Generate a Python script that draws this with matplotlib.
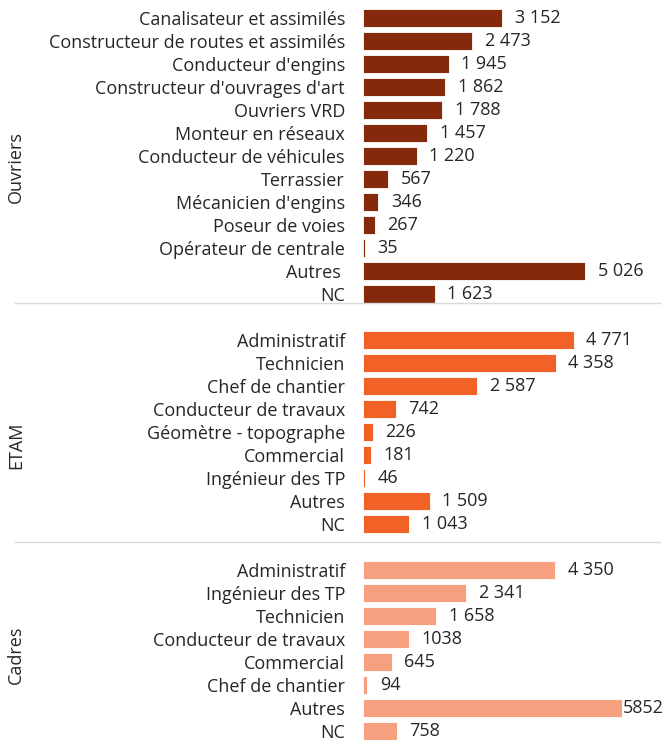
import matplotlib.pyplot as plt
import matplotlib.transforms as mtransforms
from matplotlib.lines import Line2D

plt.rcParams['font.family'] = ['Open Sans', 'DejaVu Sans']

ouvriers_cat = ["Canalisateur et assimilés", "Constructeur de routes et assimilés", "Conducteur d'engins",
                "Constructeur d'ouvrages d'art", "Ouvriers VRD", "Monteur en réseaux", "Conducteur de véhicules",
                "Terrassier", "Mécanicien d'engins", "Poseur de voies", "Opérateur de centrale", "Autres ", "NC"]
ouvriers_val = [3152, 2473, 1945, 1862, 1788, 1457, 1220, 567, 346, 267, 35, 5026, 1623]
ouvriers_txt = ["3 152", "2 473", "1 945", "1 862", "1 788", "1 457", "1 220", "567", "346", "267", "35", "5 026", "1 623"]

etam_cat = ["Administratif", "Technicien", "Chef de chantier", "Conducteur de travaux", "Géomètre - topographe",
            "Commercial", "Ingénieur des TP", "Autres", "NC"]
etam_val = [4771, 4358, 2587, 742, 226, 181, 46, 1509, 1043]
etam_txt = ["4 771", "4 358", "2 587", "742", "226", "181", "46", "1 509", "1 043"]

cadres_cat = ["Administratif", "Ingénieur des TP", "Technicien", "Conducteur de travaux", "Commercial",
              "Chef de chantier", "Autres", "NC"]
cadres_val = [4350, 2341, 1658, 1038, 645, 94, 5852, 758]
cadres_txt = ["4 350", "2 341", "1 658", "1038", "645", "94", "5852", "758"]

groups = ["Ouvriers", "ETAM", "Cadres"]
colors = ["#84290B", "#F26125", "#F7A07F"]
txt_col = "#262626"
fs = 13

W, H = 664, 744
fig = plt.figure(figsize=(W / 100, H / 100), dpi=100)
ax = fig.add_axes([363 / W, 0, (W - 363) / W, 1])

# row positions: one empty row between groups
rows = []
start = 0
for vals in (ouvriers_val, etam_val, cadres_val):
    rows.append(list(range(start, start + len(vals))))
    start += len(vals) + 1

xmax = 301 / 0.0442
ax.set_xlim(0, xmax)
ax.set_ylim((H - 18) / 23, -18 / 23)

all_pos, all_lab = [], []
for pos, cats, vals, txts, col in zip(rows, (ouvriers_cat, etam_cat, cadres_cat),
                                      (ouvriers_val, etam_val, cadres_val),
                                      (ouvriers_txt, etam_txt, cadres_txt), colors):
    ax.barh(pos, vals, height=0.75, color=col, edgecolor="white", linewidth=0.6)
    for p, v, t in zip(pos, vals, txts):
        if v > 0.8 * xmax:
            ax.text(xmax, p, t, ha="right", va="center", fontsize=fs, color=txt_col)
        else:
            ax.annotate(t, (v, p), xytext=(9, 0), textcoords="offset points",
                        ha="left", va="center", fontsize=fs, color=txt_col)
    all_pos += pos
    all_lab += cats

ax.set_yticks(all_pos)
ax.set_yticklabels(all_lab, fontsize=fs, color=txt_col)
ax.tick_params(axis="y", length=0, pad=13)
ax.set_xticks([])
for s in ax.spines.values():
    s.set_visible(False)

# separators and group labels
trans = mtransforms.blended_transform_factory(fig.transFigure, ax.transData)
for ysep in (12.4, 22.8):
    fig.add_artist(Line2D([15 / W, 660 / W], [ysep, ysep], transform=trans, color="#D9D9D9", lw=1))
for g, yc in zip(groups, (6.5, 18.6, 27.7)):
    fig.text(16 / W, yc, g, transform=trans, rotation=90, ha="center", va="center",
             fontsize=fs, color=txt_col)

fig.savefig("out.png", dpi=100)
